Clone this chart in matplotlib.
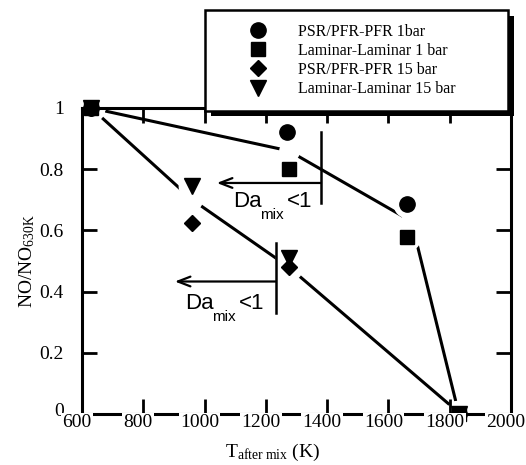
import matplotlib
matplotlib.use('Agg')
import matplotlib.pyplot as plt
from matplotlib.lines import Line2D
import matplotlib.patheffects as pe
import matplotlib.transforms as mtransforms

# ---- data ----
T_psr1 = [630, 1270, 1660, 1830]
y_psr1 = [1.0, 0.92, 0.685, 0.0]
T_lam1 = [630, 1275, 1660, 1830]
y_lam1 = [1.0, 0.80, 0.578, 0.0]
T_psr15 = [630, 960, 1275, 1830]
y_psr15 = [1.0, 0.625, 0.48, 0.0]
T_lam15 = [630, 960, 1275, 1830]
y_lam15 = [1.0, 0.745, 0.51, 0.0]

# hand-drawn trend lines
trend1_T = [630, 1275, 1675, 1830]
trend1_y = [1.0, 0.86, 0.63, 0.0]
trend15_T = [630, 960, 1275, 1835]
trend15_y = [1.0, 0.70, 0.48, 0.0]

series_labels = ["PSR/PFR-PFR 1bar", "Laminar-Laminar 1 bar",
                 "PSR/PFR-PFR 15 bar", "Laminar-Laminar 15 bar"]
series_markers = ["o", "s", "D", "v"]

xticks = [600, 800, 1000, 1200, 1400, 1600, 1800, 2000]
yticks = [0, 0.2, 0.4, 0.6, 0.8, 1.0]
ytick_labels = ["0", "0.2", "0.4", "0.6", "0.8", "1"]

# Da_mix < 1 annotations: (bar T, bar y range, arrow y, arrow tip T, text anchor)
bar1_T, bar1_y, arrow1_y, arrow1_tip, text1_xy = 1380, [0.69, 0.92], 0.755, 1040, (1092, 0.675)
bar2_T, bar2_y, arrow2_y, arrow2_tip, text2_xy = 1232, [0.33, 0.56], 0.433, 903, (935, 0.344)

plt.rcParams['font.family'] = ['Liberation Serif', 'DejaVu Serif']
plt.rcParams['mathtext.fontset'] = 'custom'
plt.rcParams['mathtext.rm'] = 'Liberation Serif'
plt.rcParams['mathtext.it'] = 'Liberation Serif:italic'

fig = plt.figure(figsize=(5.26, 4.65), dpi=100)
ax = fig.add_axes([82/526, 51/465, 429/526, 306/465])
ax.set_xlim(600, 2000)
ax.set_ylim(0, 1)

lw = 2.2
# trend lines
ax.plot(trend1_T, trend1_y, color='k', lw=lw, zorder=2, solid_capstyle='butt')
ax.plot(trend15_T, trend15_y, color='k', lw=lw, zorder=2, solid_capstyle='butt')

# white halos that break the lines near markers and at the bends
series = [(T_psr1, y_psr1), (T_lam1, y_lam1), (T_psr15, y_psr15), (T_lam15, y_lam15)]
for T, y in series:
    ax.plot(T, y, linestyle='None', marker='o', ms=20, color='white',
            markeredgewidth=0, zorder=2.2, clip_on=False)
for T, y in [(trend1_T, trend1_y), (trend15_T, trend15_y)]:
    ax.plot(T[1:-1], y[1:-1], linestyle='None', marker='o', ms=15, color='white',
            markeredgewidth=0, zorder=2.2)

sizes = [11, 10, 8.5, 11]
for (T, y), m, s in zip(series, series_markers, sizes):
    ax.plot(T, y, linestyle='None', marker=m, ms=s, color='k', zorder=2.4, clip_on=False)

# Da_mix annotations
for bT, by, ay, tip, txy in [(bar1_T, bar1_y, arrow1_y, arrow1_tip, text1_xy),
                             (bar2_T, bar2_y, arrow2_y, arrow2_tip, text2_xy)]:
    ax.plot([bT, bT], by, color='k', lw=1.8, zorder=4)
    ax.annotate('', xy=(tip, ay), xytext=(bT, ay),
                arrowprops=dict(arrowstyle='->,head_length=0.9,head_width=0.35',
                                color='k', lw=1.6, shrinkA=0, shrinkB=0), zorder=4)
    ax.annotate('Da', xy=txy, xytext=(0, 0), textcoords='offset points',
                fontsize=16, family='Liberation Sans', va='baseline', ha='left')
    ax.annotate('mix', xy=txy, xytext=(19.5, -8.5), textcoords='offset points',
                fontsize=11, family='Liberation Sans', va='baseline', ha='left')
    ax.annotate('<1', xy=txy, xytext=(39, 0), textcoords='offset points',
                fontsize=16, family='Liberation Sans', va='baseline', ha='left')

# axes styling
for sp in ax.spines.values():
    sp.set_linewidth(lw)
ax.xaxis.set_zorder(2.6)
ax.set_xticks(xticks)
ax.set_xticklabels([str(t) for t in xticks])
ax.set_yticks(yticks)
ax.set_yticklabels(ytick_labels)
ax.tick_params(axis='both', direction='in', length=10.5, width=2, labelsize=14,
               top=True, right=True)
ax.tick_params(axis='x', pad=0)
ax.tick_params(axis='y', pad=13)
shift = mtransforms.ScaledTranslation(-5/100, 0, fig.dpi_scale_trans)
for lab in ax.get_xticklabels():
    lab.set_bbox(dict(facecolor='white', edgecolor='none', pad=1.0))
    lab.set_transform(lab.get_transform() + shift)
shift_y = mtransforms.ScaledTranslation(0, 5/100, fig.dpi_scale_trans)
ax.get_yticklabels()[0].set_transform(ax.get_yticklabels()[0].get_transform() + shift_y)

ax.set_xlabel(r'T$_{\mathrm{after\ mix}}$ (K)', fontsize=14, x=0.445, labelpad=8)
ax.set_ylabel(r'NO/NO$_{\mathrm{630K}}$', fontsize=14, labelpad=2)

# legend
handles = [Line2D([], [], linestyle='None', marker=m, ms=s, color='k')
           for m, s in zip(series_markers, sizes)]
leg = fig.legend(handles, series_labels, loc='upper left',
                 bbox_to_anchor=(205/526, 1 - 110/465, (508 - 205)/526, 100/465),
                 mode='expand', fancybox=False, frameon=True, framealpha=1,
                 edgecolor='k', fontsize=11.5, handlelength=4.95, handletextpad=0.0,
                 borderpad=0.85, labelspacing=0.2, numpoints=1, borderaxespad=0)
leg.get_frame().set_linewidth(1.8)
leg.get_frame().set_path_effects([pe.SimplePatchShadow(offset=(4, -4), shadow_rgbFace='k', alpha=1),
                                  pe.Normal()])

fig.savefig('out.png', dpi=100)
